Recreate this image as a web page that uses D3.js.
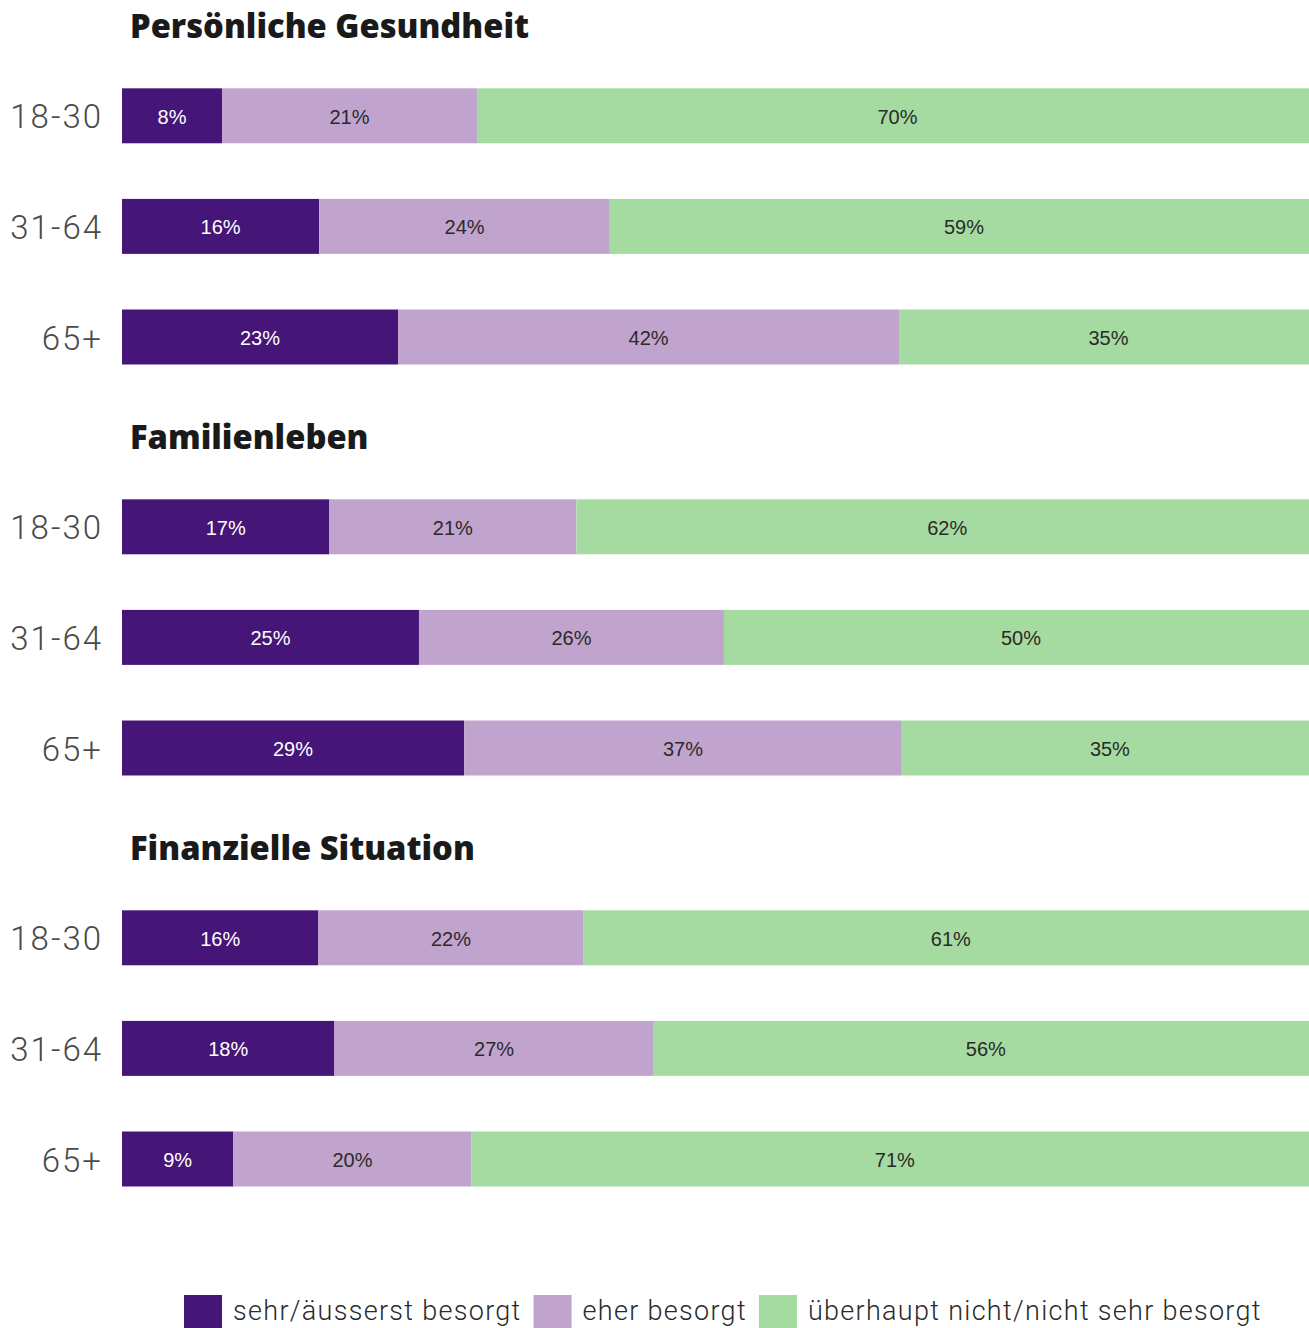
<!DOCTYPE html>
<html>
<head>
<meta charset="utf-8">
<script src="https://cdn.jsdelivr.net/npm/d3@7"></script>
<style>
  html, body { margin: 0; padding: 0; background: #ffffff; overflow: hidden; }
  svg { display: block; }
</style>
</head>
<body>
<div id="chart"></div>
<script>
// ---- Data ----
const sections = ["Persönliche Gesundheit", "Familienleben", "Finanzielle Situation"];
const ageGroups = ["18-30", "31-64", "65+"];
const seriesNames = ["sehr/äusserst besorgt", "eher besorgt", "überhaupt nicht/nicht sehr besorgt"];
const seriesColors = ["#451577", "#c1a4cd", "#a5dba0"];
const labelColors = ["#ffffff", "#2a2a2a", "#2a2a2a"];

// values per section, in ageGroups order (percent)
const sehrBesorgt = [
  [8.36, 16.49, 23.08],
  [17.34, 24.83, 28.6],
  [16.42, 17.76, 9.31]
];
const eherBesorgt = [
  [21.32, 24.3, 41.89],
  [20.65, 25.5, 36.6],
  [22.18, 26.7, 19.92]
];
const nichtBesorgt = [
  [70.32, 59.21, 35.03],
  [62.01, 49.67, 34.8],
  [61.4, 55.54, 70.77]
];

// ---- Layout ----
const W = 1309, H = 1328;
const svg = d3.select("#chart").append("svg").attr("width", W).attr("height", H);

const x = d3.scaleLinear().domain([0, 100]).range([122, 1318]);
const sectionStep = 411;
const rowStep = 110.6;
const pad = 0.503;

const series = [sehrBesorgt, eherBesorgt, nichtBesorgt];

sections.forEach((title, si) => {
  const top = 60.5 + si * sectionStep;
  const y = d3.scaleBand().domain(ageGroups)
    .range([top, top + 3 * rowStep])
    .paddingInner(pad).paddingOuter(pad / 2);

  const g = svg.append("g");

  g.append("text")
    .attr("x", 130)
    .attr("y", 38 + si * sectionStep)
    .attr("font-family", "'Open Sans', Roboto, sans-serif")
    .attr("font-weight", 800)
    .attr("font-size", 32.7)
    .attr("fill", "#1a1a1a")
    .text(title);

  // build stacked rows
  const rows = ageGroups.map((age, ai) => {
    const vals = series.map(s => s[si][ai]);
    let acc = 0;
    const segs = vals.map((v, k) => { const s = { age, k, v, x0: acc, x1: acc + v }; acc += v; return s; });
    return { age, segs };
  });

  // age labels
  g.selectAll("text.age").data(rows).join("text")
    .attr("class", "age")
    .attr("x", 103)
    .attr("y", d => y(d.age) + y.bandwidth() / 2 + 1)
    .attr("text-anchor", "end")
    .attr("dominant-baseline", "central")
    .attr("font-family", "Roboto, 'Noto Sans', sans-serif")
    .attr("font-weight", 300)
    .attr("font-size", 33)
    .attr("letter-spacing", 2)
    .attr("fill", "#4a4a4a")
    .text(d => d.age);

  const segs = rows.flatMap(r => r.segs);

  g.selectAll("rect.seg").data(segs).join("rect")
    .attr("class", "seg")
    .attr("x", d => x(d.x0))
    .attr("y", d => y(d.age))
    .attr("width", d => x(d.x1) - x(d.x0))
    .attr("height", y.bandwidth())
    .attr("fill", d => seriesColors[d.k]);

  g.selectAll("text.val").data(segs).join("text")
    .attr("class", "val")
    .attr("x", d => (x(d.x0) + x(d.x1)) / 2)
    .attr("y", d => y(d.age) + y.bandwidth() / 2 + 1)
    .attr("text-anchor", "middle")
    .attr("dominant-baseline", "central")
    .attr("font-family", "'Liberation Sans', Arial, sans-serif")
    .attr("font-size", 20)
    .attr("fill", d => labelColors[d.k])
    .text(d => Math.round(d.v) + "%");
});

// ---- Legend ----
const legend = svg.append("g");
let lx = 184;
seriesNames.forEach((name, i) => {
  legend.append("rect")
    .attr("x", lx).attr("y", 1295)
    .attr("width", 38).attr("height", 40)
    .attr("fill", seriesColors[i]);
  const t = legend.append("text")
    .attr("x", lx + 49).attr("y", 1320)
    .attr("font-family", "Roboto, 'Noto Sans', sans-serif")
    .attr("font-weight", 300)
    .attr("font-size", 27)
    .attr("letter-spacing", 1.3)
    .attr("fill", "#2a2a2a")
    .text(name);
  lx += 49 + t.node().getComputedTextLength() + 12;
});
</script>
</body>
</html>
